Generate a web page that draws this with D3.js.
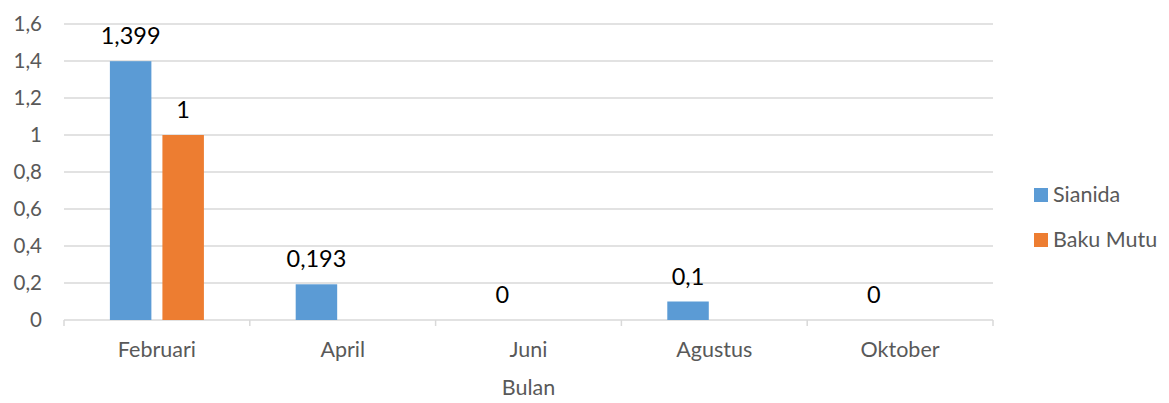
<!DOCTYPE html>
<html>
<head>
<meta charset="utf-8">
<script src="https://cdn.jsdelivr.net/npm/d3@7"></script>
<style>
  body { margin: 0; background: #fff; }
  text { font-family: Lato, "Open Sans", sans-serif; }
</style>
</head>
<body>
<div id="chart"></div>
<script>
const months = ["Februari", "April", "Juni", "Agustus", "Oktober"];
const sianida = [1.399, 0.193, 0, 0.1, 0];
const bakuMutu = [1, null, null, null, null];
const seriesNames = ["Sianida", "Baku Mutu"];
const seriesColors = ["#5B9BD5", "#ED7D31"];
const yTicks = [0, 0.2, 0.4, 0.6, 0.8, 1, 1.2, 1.4, 1.6];

const W = 1169, H = 403;
const margin = { top: 24, right: 176, bottom: 83, left: 64 };
const width = W - margin.left - margin.right;
const height = H - margin.top - margin.bottom;

const fmt = v => String(v).replace(".", ",");

const svg = d3.select("#chart")
    .append("svg")
    .attr("width", W)
    .attr("height", H)
    .append("g")
    .attr("transform", `translate(${margin.left},${margin.top})`);

const x0 = d3.scaleBand()
    .domain(months)
    .range([0, width])
    .padding(0);

const x1 = d3.scaleBand()
    .domain(seriesNames)
    .range([x0.bandwidth() * 0.247, x0.bandwidth() * 0.753])
    .paddingInner(0.21)
    .paddingOuter(0);

const y = d3.scaleLinear()
    .domain([0, 1.6])
    .range([height, 0]);

// gridlines
svg.append("g")
    .attr("class", "grid")
    .selectAll("line")
    .data(yTicks.slice(1))
    .enter()
    .append("line")
    .attr("x1", 0)
    .attr("x2", width)
    .attr("y1", d => y(d))
    .attr("y2", d => y(d))
    .attr("stroke", "#D9D9D9")
    .attr("stroke-width", 1.3);

// y axis labels
svg.append("g")
    .attr("class", "y-axis")
    .call(d3.axisLeft(y).tickValues(yTicks).tickFormat(fmt).tickSize(0).tickPadding(22));

svg.select(".y-axis path").remove();
svg.selectAll(".y-axis text")
    .attr("fill", "#595959")
    .attr("font-size", "20.5px");

// x axis
const xAxis = svg.append("g")
    .attr("class", "x-axis")
    .attr("transform", `translate(0,${height})`)
    .call(d3.axisBottom(x0).tickSize(0).tickPadding(22));

xAxis.select("path")
    .attr("stroke", "#D9D9D9")
    .attr("stroke-width", 1.5)
    .attr("d", `M0,0H${width}`);

xAxis.selectAll(".tick text")
    .attr("fill", "#595959")
    .attr("font-size", "21.5px");

xAxis.selectAll(".boundary")
    .data(months.concat([null]))
    .enter()
    .append("line")
    .attr("class", "boundary")
    .attr("x1", (d, i) => i < months.length ? x0(d) : width)
    .attr("x2", (d, i) => i < months.length ? x0(d) : width)
    .attr("y1", 0)
    .attr("y2", 6)
    .attr("stroke", "#D9D9D9")
    .attr("stroke-width", 1.5);

// bars
const rows = months.map((m, i) => ({ month: m, values: [sianida[i], bakuMutu[i]] }));

const groups = svg.selectAll(".bar-group")
    .data(rows)
    .enter()
    .append("g")
    .attr("class", "bar-group")
    .attr("transform", d => `translate(${x0(d.month)},0)`);

const cells = groups.selectAll(".cell")
    .data(d => d.values.map((v, i) => ({ name: seriesNames[i], value: v, i: i })).filter(e => e.value !== null))
    .enter()
    .append("g")
    .attr("class", "cell");

cells.append("rect")
    .attr("x", d => x1(d.name))
    .attr("y", d => y(d.value))
    .attr("width", x1.bandwidth())
    .attr("height", d => y(0) - y(d.value))
    .attr("fill", d => seriesColors[d.i]);

cells.append("text")
    .attr("x", d => x1(d.name) + x1.bandwidth() / 2)
    .attr("y", d => y(d.value) - 17)
    .attr("text-anchor", "middle")
    .attr("font-size", "23.5px")
    .attr("fill", "#000")
    .text(d => fmt(d.value));

// axis title
svg.append("text")
    .attr("x", width / 2)
    .attr("y", height + 75)
    .attr("text-anchor", "middle")
    .attr("font-size", "21.5px")
    .attr("fill", "#595959")
    .text("Bulan");

// legend
const legend = svg.append("g")
    .attr("class", "legend")
    .attr("transform", `translate(${1034 - margin.left},${188 - margin.top})`);

const legendItem = legend.selectAll(".legend-item")
    .data(seriesNames)
    .enter()
    .append("g")
    .attr("class", "legend-item")
    .attr("transform", (d, i) => `translate(0,${i * 45})`);

legendItem.append("rect")
    .attr("width", 14)
    .attr("height", 14)
    .attr("fill", (d, i) => seriesColors[i]);

legendItem.append("text")
    .attr("x", 19)
    .attr("y", 14)
    .attr("font-size", "21.5px")
    .attr("fill", "#595959")
    .text(d => d);
</script>
</body>
</html>
